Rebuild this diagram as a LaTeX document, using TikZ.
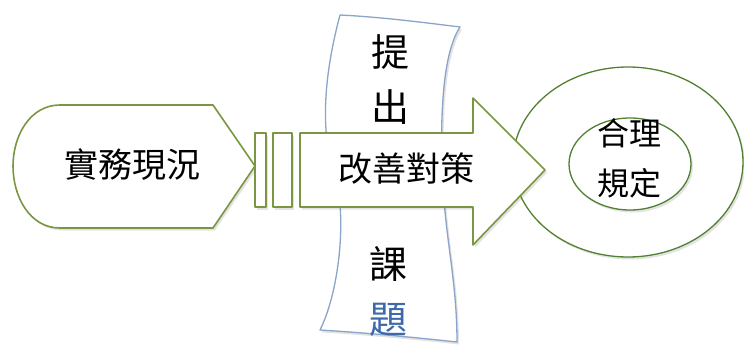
\documentclass[tikz,border=0pt]{standalone}
\usepackage{fontspec}
\usepackage{tikz}
\newfontfamily\cjk{Noto Sans CJK TC}
\usetikzlibrary{shadows}

\definecolor{leafgreen}{RGB}{122,150,66}
\definecolor{ringgreen}{RGB}{82,128,50}
\definecolor{paperblue}{RGB}{138,164,202}
\definecolor{inkblue}{RGB}{62,104,172}

\begin{document}
\begin{tikzpicture}[x=1pt,y=-1pt,
  gbox/.style={fill=white,draw=leafgreen,line width=1.6pt,line join=round,
    drop shadow={opacity=.22,shadow xshift=2pt,shadow yshift=-2.5pt}},
  ringbox/.style={gbox,draw=ringgreen,line width=1.3pt},
  paper/.style={fill=white,draw=paperblue,line width=1.3pt,line join=round,
    drop shadow={opacity=.22,shadow xshift=2pt,shadow yshift=-2.5pt}},
  txt/.style={font=\cjk\fontsize{34}{40}\selectfont,inner sep=0pt},
  papertxt/.style={font=\cjk\fontsize{38}{55}\selectfont,inner sep=0pt,align=center}]

\useasboundingbox (0,0) rectangle (744,345);

\draw [paper] (340,15) .. controls (328,60) and (318,120) .. (333,170)
  .. controls (348,210) and (340,290) .. (320,330)
  .. controls (370,333) and (420,338) .. (457,342)
  .. controls (457,280) and (445,240) .. (442,170)
  .. controls (440,100) and (445,50) .. (460,27)
  .. controls (420,22) and (380,17) .. cycle;

\draw [ringbox] (628,162) ellipse [x radius=115pt,y radius=95pt];
\draw [ringbox] (630,164) ellipse [x radius=61pt,y radius=46pt];

\draw [gbox] (300,133) -- (473,133) -- (473,98) -- (545,170) -- (473,245) -- (473,207) -- (300,207) -- cycle;

\draw [gbox] (60,105) -- (213,105) -- (255,166) -- (213,228) -- (60,228)
  to[out=180,in=-90] (13,166) to[out=90,in=180] (60,105) -- cycle;

\draw [gbox] (255,133) rectangle (266,207);
\draw [gbox] (273,133) rectangle (292,207);

\node [txt] (now) at (132,165) {實務現況};
\node [txt] (plan) at (406,169) {改善對策};
\node [txt,align=center,font=\cjk\fontsize{32}{50}\selectfont] (rule) at (629,158) {合理\\規定};
\node [papertxt] (raise) at (390,80) {提\\出};
\node [papertxt] (issue) at (388,292) {課\\{\color{inkblue}題}};

\end{tikzpicture}
\end{document}
